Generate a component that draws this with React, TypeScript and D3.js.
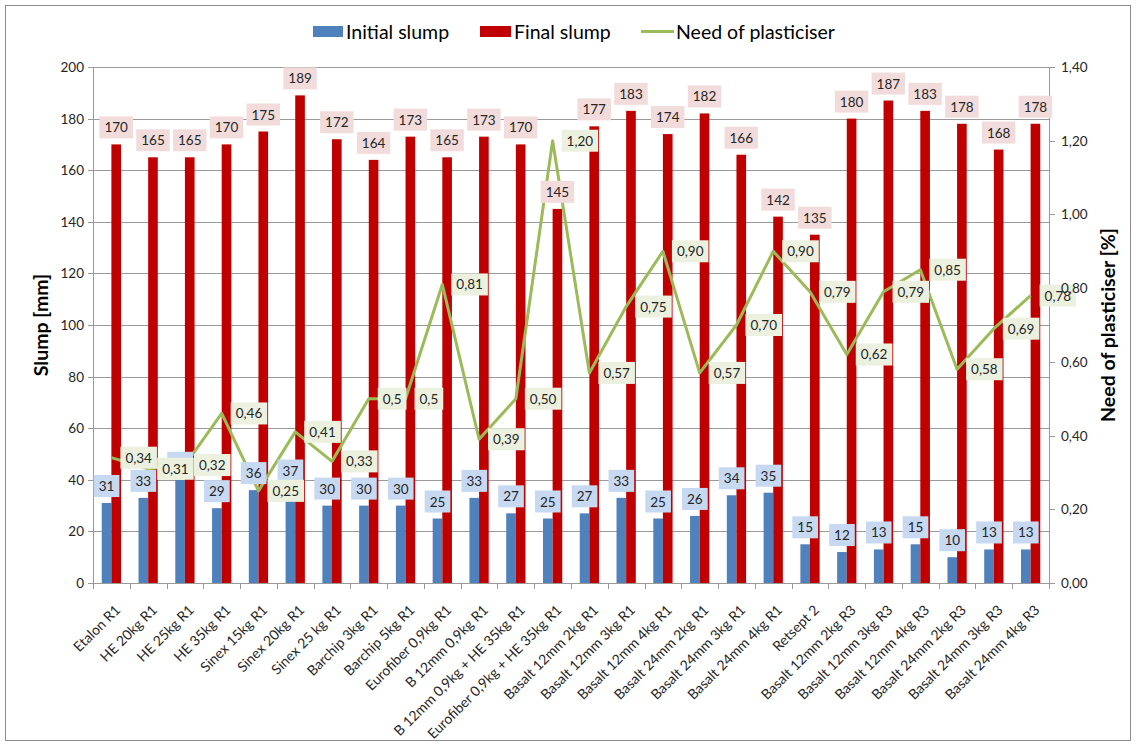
import React, { useMemo } from "react";
import * as d3 from "d3";

// Mix names (x axis)
const categories = [
  "Etalon R1",
  "HE 20kg R1",
  "HE 25kg R1",
  "HE 35kg R1",
  "Sinex 15kg R1",
  "Sinex 20kg R1",
  "Sinex 25 kg R1",
  "Barchip 3kg R1",
  "Barchip 5kg R1",
  "Eurofiber 0,9kg R1",
  "B 12mm 0,9kg R1",
  "B 12mm 0,9kg + HE 35kg R1",
  "Eurofiber 0,9kg + HE 35kg R1",
  "Basalt 12mm 2kg R1",
  "Basalt 12mm 3kg R1",
  "Basalt 12mm 4kg R1",
  "Basalt 24mm 2kg R1",
  "Basalt 24mm 3kg R1",
  "Basalt 24mm 4kg R1",
  "Retsept 2",
  "Basalt 12mm 2kg R3",
  "Basalt 12mm 3kg R3",
  "Basalt 12mm 4kg R3",
  "Basalt 24mm 2kg R3",
  "Basalt 24mm 3kg R3",
  "Basalt 24mm 4kg R3",
];

// Slump in mm
const initialSlump = [31, 33, 40, 29, 36, 37, 30, 30, 30, 25, 33, 27, 25, 27, 33, 25, 26, 34, 35, 15, 12, 13, 15, 10, 13, 13];
const finalSlump = [170, 165, 165, 170, 175, 189, 172, 164, 173, 165, 173, 170, 145, 177, 183, 174, 182, 166, 142, 135, 180, 187, 183, 178, 168, 178];

// Plasticiser dosage in %, as written in the data labels
const plasticiser = ["0,34", "0,31", "0,32", "0,46", "0,25", "0,41", "0,33", "0,5", "0,5", "0,81", "0,39", "0,50", "1,20", "0,57", "0,75", "0,90", "0,57", "0,70", "0,90", "0,79", "0,62", "0,79", "0,85", "0,58", "0,69", "0,78"];

const leftTicks = [0, 20, 40, 60, 80, 100, 120, 140, 160, 180, 200];
const rightTicks = [0, 0.2, 0.4, 0.6, 0.8, 1.0, 1.2, 1.4];

const W = 1136;
const H = 745;
const M = { left: 93, right: 1049, top: 67, bottom: 583 };

const FONT = "Lato, 'Open Sans', sans-serif";
const BLUE = "#4F81BD";
const RED = "#C00000";
const GREEN = "#9BBB59";
const GRID = "#9a9a9a";
const TEXT = "#262626";

const parseComma = (s: string) => +s.replace(",", ".");
const fmtRight = (v: number) => d3.format(".2f")(v).replace(".", ",");

let measureCtx: CanvasRenderingContext2D | null = null;
function textWidth(t: string, font: string) {
  if (!measureCtx) measureCtx = document.createElement("canvas").getContext("2d");
  if (!measureCtx) return t.length * 7.3;
  measureCtx.font = font;
  return measureCtx.measureText(t).width;
}

function LabelBox({ cx, cy, text, fill, anchor = "middle" }: { cx: number; cy: number; text: string; fill: string; anchor?: "middle" | "start" }) {
  const tw = textWidth(text, `13.5px ${FONT}`);
  const w = tw + 10;
  const h = 22;
  const x0 = anchor === "middle" ? cx - w / 2 : cx;
  return (
    <g>
      <rect x={x0} y={cy - h / 2} width={w} height={h} fill={fill} />
      <text x={x0 + w / 2} y={cy} textAnchor="middle" dominantBaseline="central" fontSize={13.5} fontFamily={FONT} fill={TEXT}>
        {text}
      </text>
    </g>
  );
}

export default function App() {
  const x = useMemo(() => d3.scaleBand<string>().domain(categories).range([M.left, M.right]).padding(0), []);
  const yL = useMemo(() => d3.scaleLinear().domain([0, 200]).range([M.bottom, M.top]), []);
  const yR = useMemo(() => d3.scaleLinear().domain([0, 1.4]).range([M.bottom, M.top]), []);

  const bw = x.bandwidth() * 0.262;
  const cx = (c: string) => (x(c) as number) + x.bandwidth() / 2;

  const needValues = plasticiser.map(parseComma);
  const line = d3
    .line<number>()
    .x((_, i) => cx(categories[i]))
    .y((v) => yR(v));

  const boundaries = categories.map((c) => x(c) as number).concat([M.right]);

  return (
    <svg width={W} height={H} style={{ position: "absolute", left: 0, top: 0, background: "#fff" }}>
      <rect x={5.5} y={5.5} width={1125} height={735} fill="#fff" stroke="#8c8c8c" strokeWidth={1} />

      {/* gridlines */}
      {leftTicks.map((t) => (
        <line key={"g" + t} x1={M.left} x2={M.right} y1={Math.round(yL(t)) + 0.5} y2={Math.round(yL(t)) + 0.5} stroke={GRID} strokeWidth={1} />
      ))}

      {/* axes lines */}
      <line x1={M.left + 0.5} x2={M.left + 0.5} y1={M.top} y2={M.bottom + 0.5} stroke={GRID} />
      <line x1={M.right + 0.5} x2={M.right + 0.5} y1={M.top} y2={M.bottom + 0.5} stroke={GRID} />
      {leftTicks.map((t) => (
        <line key={"lt" + t} x1={M.left - 5} x2={M.left} y1={Math.round(yL(t)) + 0.5} y2={Math.round(yL(t)) + 0.5} stroke={GRID} />
      ))}
      {rightTicks.map((t) => (
        <line key={"rt" + t} x1={M.right} x2={M.right + 6} y1={Math.round(yR(t)) + 0.5} y2={Math.round(yR(t)) + 0.5} stroke={GRID} />
      ))}
      {boundaries.map((b, i) => (
        <line key={"xt" + i} x1={Math.round(b) + 0.5} x2={Math.round(b) + 0.5} y1={M.bottom} y2={M.bottom + 6} stroke={GRID} />
      ))}

      {/* bars */}
      {categories.map((c, i) => (
        <rect key={"b" + i} x={cx(c) - bw} y={yL(initialSlump[i])} width={bw} height={yL(0) - yL(initialSlump[i])} fill={BLUE} />
      ))}
      {categories.map((c, i) => (
        <rect key={"r" + i} x={cx(c)} y={yL(finalSlump[i])} width={bw} height={yL(0) - yL(finalSlump[i])} fill={RED} />
      ))}

      {/* plasticiser line */}
      <path d={line(needValues) || ""} fill="none" stroke={GREEN} strokeWidth={3} strokeLinejoin="round" />

      {/* data labels */}
      {categories.map((c, i) => (
        <LabelBox key={"bl" + i} cx={cx(c) - bw / 2} cy={yL(initialSlump[i]) - 17} text={String(initialSlump[i])} fill="#C6D9F1" />
      ))}
      {categories.map((c, i) => (
        <LabelBox key={"rl" + i} cx={cx(c) + bw / 2} cy={yL(finalSlump[i]) - 17} text={String(finalSlump[i])} fill="#F2DCDB" />
      ))}
      {categories.map((c, i) => (
        <LabelBox key={"gl" + i} cx={cx(c) + 9} cy={yR(needValues[i])} text={plasticiser[i]} fill="#EBF1DE" anchor="start" />
      ))}

      {/* tick labels */}
      {leftTicks.map((t) => (
        <text key={"ll" + t} x={M.left - 9} y={yL(t)} textAnchor="end" dominantBaseline="central" fontSize={13.5} fontFamily={FONT} fill={TEXT}>
          {t}
        </text>
      ))}
      {rightTicks.map((t) => (
        <text key={"rl" + t} x={M.right + 12} y={yR(t)} textAnchor="start" dominantBaseline="central" fontSize={13.5} fontFamily={FONT} fill={TEXT}>
          {fmtRight(t)}
        </text>
      ))}
      {categories.map((c) => (
        <text
          key={"xl" + c}
          transform={`translate(${cx(c) + 6},${M.bottom + 24}) rotate(-45)`}
          textAnchor="end"
          dominantBaseline="central"
          fontSize={14}
          fontFamily={FONT}
          fill={TEXT}
        >
          {c}
        </text>
      ))}

      {/* axis titles */}
      <text transform={`translate(40,${(M.top + M.bottom) / 2}) rotate(-90)`} textAnchor="middle" dominantBaseline="central" fontSize={19.5} fontWeight="bold" fontFamily={FONT} fill="#000">
        Slump [mm]
      </text>
      <text transform={`translate(1107,${(M.top + M.bottom) / 2}) rotate(-90)`} textAnchor="middle" dominantBaseline="central" fontSize={19.5} fontWeight="bold" fontFamily={FONT} fill="#000">
        Need of plasticiser [%]
      </text>

      {/* legend */}
      <g fontSize={19.5} fontFamily={FONT} fill="#000">
        <rect x={313} y={26} width={30} height={11} fill={BLUE} />
        <text x={346} y={31} dominantBaseline="central">Initial slump</text>
        <rect x={480} y={26} width={31} height={11} fill={RED} />
        <text x={514} y={31} dominantBaseline="central">Final slump</text>
        <line x1={641} x2={674} y1={31.5} y2={31.5} stroke={GREEN} strokeWidth={3} />
        <text x={676} y={31} dominantBaseline="central">Need of plasticiser</text>
      </g>
    </svg>
  );
}
